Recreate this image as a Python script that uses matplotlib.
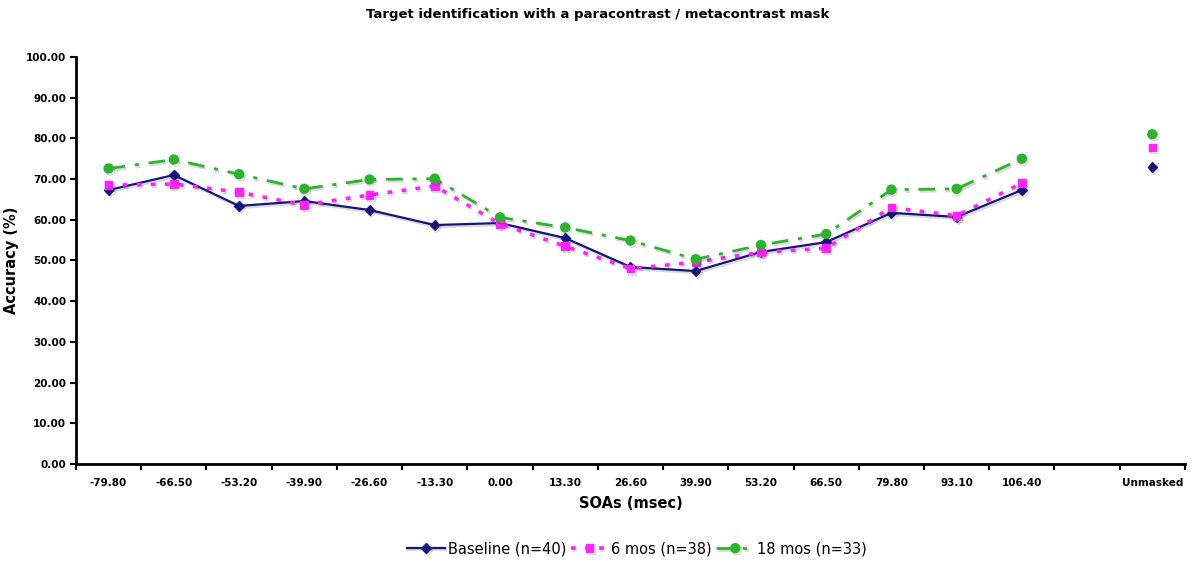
import matplotlib
matplotlib.use('Agg')
import matplotlib.pyplot as plt
import matplotlib.patheffects as pe
import numpy as np

# categories (blank slot before "Unmasked")
categories = ['-79.80', '-66.50', '-53.20', '-39.90', '-26.60', '-13.30', '0.00',
              '13.30', '26.60', '39.90', '53.20', '66.50', '79.80', '93.10',
              '106.40', '', 'Unmasked']

baseline = [67.3, 71.0, 63.4, 64.6, 62.4, 58.7, 59.2, 55.5, 48.4, 47.4,
            52.1, 54.5, 61.7, 60.7, 67.3, np.nan, 73.0]
mos6 = [68.5, 68.8, 66.8, 63.6, 66.1, 68.3, 59.0, 53.5, 48.0, 49.6,
        52.0, 53.0, 63.0, 61.0, 69.0, np.nan, 77.8]
mos18 = [72.6, 74.8, 71.2, 67.6, 69.9, 70.1, 60.6, 58.1, 54.9, 50.3,
         53.8, 56.5, 67.4, 67.6, 75.0, np.nan, 81.0]

x = np.arange(len(categories))

fig = plt.figure(figsize=(11.95, 5.64), dpi=100)
ax = fig.add_axes([0.0636, 0.1773, 0.928, 0.7217])

shadow = [pe.SimpleLineShadow(offset=(1, -1.5), alpha=0.15), pe.Normal()]

ax.plot(x, baseline, color='#14147a', lw=1.6, marker='D', ms=4.8,
        label='Baseline (n=40)', path_effects=shadow)
ax.plot(x, mos6, color='#ff22ff', lw=2.6, ls=(0, (1.3, 2.6)), marker='s', ms=5.5,
        label='6 mos (n=38)', path_effects=shadow)
ax.plot(x, mos18, color='#2cb32c', lw=2.0, ls=(0, (6, 3.5, 1.5, 3.5)), marker='o', ms=6.5,
        label='18 mos (n=33)', path_effects=shadow)

ax.set_xlim(-0.5, len(categories) - 0.5)
ax.set_ylim(0, 100)
ax.set_yticks(np.arange(0, 101, 10))
ax.set_yticklabels(['%.2f' % v for v in np.arange(0, 101, 10)], fontsize=7.5, fontweight='bold')

ax.set_xticks(x)
ax.set_xticklabels(categories, fontsize=7.5, fontweight='bold')
ax.set_xticks(np.arange(-0.5, len(categories)), minor=True)
ax.tick_params(axis='x', which='major', length=0, pad=10)
ax.tick_params(axis='x', which='minor', length=4, width=1.5, direction='out')
ax.tick_params(axis='y', length=4, width=1.5, direction='out', pad=3)

for s in ['top', 'right']:
    ax.spines[s].set_visible(False)
for s in ['left', 'bottom']:
    ax.spines[s].set_linewidth(2)

ax.set_xlabel('SOAs (msec)', fontsize=10.5, fontweight='bold', labelpad=6)
ax.set_ylabel('Accuracy (%)', fontsize=10.5, fontweight='bold', labelpad=5)
fig.suptitle('Target identification with a paracontrast / metacontrast mask',
             fontsize=9.5, fontweight='bold', y=0.985)

fig.legend(loc='center', bbox_to_anchor=(0.533, 0.027), ncol=3, frameon=False,
           fontsize=10.5, handlelength=2.6, handletextpad=0.2, columnspacing=0.3)

fig.savefig('out.png', dpi=100)
